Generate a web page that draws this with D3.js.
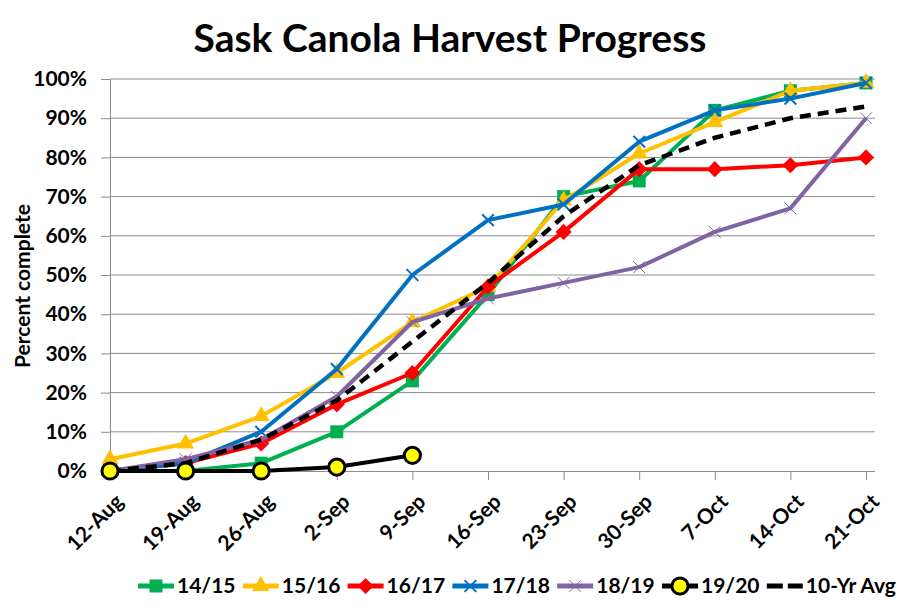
<!DOCTYPE html>
<html>
<head>
<meta charset="utf-8">
<script src="https://cdn.jsdelivr.net/npm/d3@7/dist/d3.min.js"></script>
<style>
  body { margin: 0; background: #fff; }
  text { font-family: Lato, "Open Sans", sans-serif; font-weight: bold; }
</style>
</head>
<body>
<svg width="901" height="613"></svg>
<script>
// weekly dates on the x axis
const weeks = ['12-Aug', '19-Aug', '26-Aug', '2-Sep', '9-Sep', '16-Sep', '23-Sep', '30-Sep', '7-Oct', '14-Oct', '21-Oct'];
const yTicks = [0, 10, 20, 30, 40, 50, 60, 70, 80, 90, 100];

// percent complete per season
const s1415 = [0, 0, 2, 10, 23, 45, 70, 74, 92, 97, 99];
const s1516 = [3, 7, 14, 25, 38, 47, 69, 81, 89, 97, 99];
const s1617 = [0, 2, 7, 17, 25, 47, 61, 77, 77, 78, 80];
const s1718 = [0, 2, 10, 26, 50, 64, 68, 84, 92, 95, 99];
const s1819 = [0, 3, 8, 19, 38, 44, 48, 52, 61, 67, 90];
const s1920 = [0, 0, 0, 1, 4];
const avg10 = [0, 2, 8, 18, 33, 48, 65, 78, 85, 90, 93];

const series = [
  { name: '14/15', values: s1415, color: '#00B050', marker: 'square' },
  { name: '15/16', values: s1516, color: '#FFC000', marker: 'triangle' },
  { name: '16/17', values: s1617, color: '#FF0000', marker: 'diamond' },
  { name: '17/18', values: s1718, color: '#0070C0', marker: 'x' },
  { name: '18/19', values: s1819, color: '#8064A2', marker: 'xthin' },
  { name: '10-Yr Avg', values: avg10, color: '#000', marker: 'none', dash: true },
  { name: '19/20', values: s1920, color: '#000', marker: 'circle' }
];
const legendOrder = ['14/15', '15/16', '16/17', '17/18', '18/19', '19/20', '10-Yr Avg'];

const svg = d3.select('svg');
const plotL = 110, plotR = 866, plotT = 79, plotB = 471;

const x = d3.scalePoint().domain(weeks).range([plotL, plotR]);
const y = d3.scaleLinear().domain([0, 100]).range([plotB, plotT]);

svg.append('text')
  .attr('x', 450).attr('y', 52)
  .attr('text-anchor', 'middle')
  .style('font-size', '39px')
  .text('Sask Canola Harvest Progress');

// gridlines
svg.append('g')
  .selectAll('line')
  .data(yTicks.slice(1))
  .join('line')
  .attr('x1', plotL).attr('x2', 875)
  .attr('y1', d => y(d)).attr('y2', d => y(d))
  .attr('stroke', '#8c8c8c').attr('stroke-width', 1);

const yAxis = svg.append('g')
  .attr('transform', `translate(${plotL},0)`)
  .call(d3.axisLeft(y).tickValues(yTicks).tickFormat(d => d + '%').tickSize(9).tickPadding(14));
yAxis.select('.domain').attr('stroke', '#8c8c8c');
yAxis.selectAll('.tick line').attr('stroke', '#8c8c8c');
yAxis.selectAll('text').style('font-size', '21px').attr('fill', '#000');

const xAxis = svg.append('g')
  .attr('transform', `translate(0,${plotB})`)
  .call(d3.axisBottom(x).tickSize(9).tickSizeOuter(0));
xAxis.select('.domain').attr('stroke', '#8c8c8c').attr('d', `M${plotL},0.5H875`);
xAxis.selectAll('.tick line').attr('stroke', '#8c8c8c');
xAxis.selectAll('text')
  .style('font-size', '21px').attr('fill', '#000')
  .attr('text-anchor', 'end')
  .attr('dy', null).attr('y', 0)
  .attr('transform', 'translate(14,32) rotate(-45)');

svg.append('text')
  .attr('transform', 'translate(30,286) rotate(-90)')
  .attr('text-anchor', 'middle')
  .style('font-size', '21px')
  .text('Percent complete');

const line = d3.line().x((d, i) => x(weeks[i])).y(d => y(d));

function drawMarker(g, type, color, size) {
  if (type === 'square') {
    g.append('rect').attr('x', -size / 2).attr('y', -size / 2).attr('width', size).attr('height', size).attr('fill', color);
  } else if (type === 'triangle') {
    g.append('path').attr('d', d3.symbol(d3.symbolTriangle, size * size * 0.75)()).attr('fill', color);
  } else if (type === 'diamond') {
    const h = size * 0.62;
    g.append('path').attr('d', `M0,${-h}L${h},0L0,${h}L${-h},0Z`).attr('fill', color);
  } else if (type === 'x') {
    const h = size * 0.45;
    g.append('path').attr('d', `M${-h},${-h}L${h},${h}M${-h},${h}L${h},${-h}`).attr('stroke', color).attr('stroke-width', 2);
  } else if (type === 'xthin') {
    const h = size * 0.45;
    g.append('path').attr('d', `M${-h},${-h}L${h},${h}M${-h},${h}L${h},${-h}`).attr('stroke', color).attr('stroke-width', 1);
  } else if (type === 'circle') {
    g.append('circle').attr('r', size * 0.62).attr('fill', '#FFFF00').attr('stroke', '#000').attr('stroke-width', 3);
  }
}

series.forEach(s => {
  const g = svg.append('g');
  g.append('path')
    .datum(s.values)
    .attr('d', line)
    .attr('fill', 'none')
    .attr('stroke', s.color)
    .attr('stroke-width', s.dash ? 4.5 : 4)
    .attr('stroke-linejoin', 'round')
    .attr('stroke-dasharray', s.dash ? '11,7' : null);
  if (s.marker !== 'none') {
    g.selectAll('g.m')
      .data(s.values)
      .join('g')
      .attr('class', 'm')
      .attr('transform', (d, i) => `translate(${x(weeks[i])},${y(d)})`)
      .each(function () { drawMarker(d3.select(this), s.marker, s.color, 13); });
  }
});

// legend
const legend = svg.append('g');
legendOrder.forEach((name, i) => {
  const s = series.find(d => d.name === name);
  const g = legend.append('g').attr('transform', `translate(${138 + i * 104.8},586)`);
  g.append('line')
    .attr('x1', 0).attr('x2', 36)
    .attr('stroke', s.color).attr('stroke-width', 5)
    .attr('stroke-dasharray', s.dash ? '16,5' : null);
  if (s.marker !== 'none') {
    const m = g.append('g').attr('transform', 'translate(18,0)');
    drawMarker(m, s.marker, s.color, 13);
  }
  g.append('text')
    .attr('x', 39).attr('y', 7)
    .style('font-size', '21px')
    .text(name);
});
</script>
</body>
</html>
